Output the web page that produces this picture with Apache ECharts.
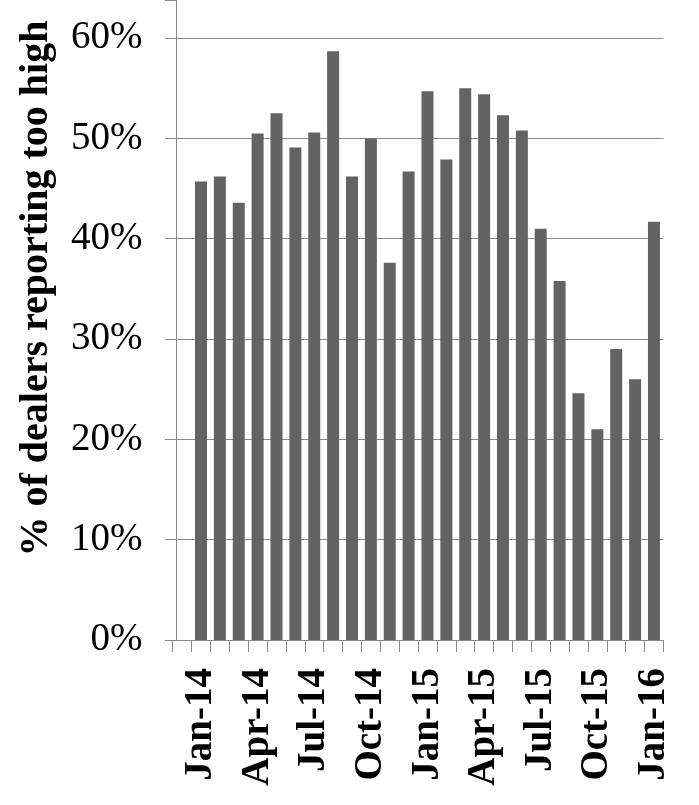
<!DOCTYPE html>
<html>
<head>
<meta charset="utf-8">
<script src="https://cdn.jsdelivr.net/npm/echarts@6/dist/echarts.min.js"></script>
<style>
html,body{margin:0;padding:0;background:#fff;}
#chart{width:699px;height:805px;}
</style>
</head>
<body>
<div id="chart"></div>
<script>
// Months (Jan-14 .. Jan-16)
var months = ['Jan-14','Feb-14','Mar-14','Apr-14','May-14','Jun-14','Jul-14','Aug-14','Sep-14','Oct-14','Nov-14','Dec-14',
              'Jan-15','Feb-15','Mar-15','Apr-15','May-15','Jun-15','Jul-15','Aug-15','Sep-15','Oct-15','Nov-15','Dec-15','Jan-16'];
// % of dealers reporting too high
var values = [45.7,46.2,43.6,50.5,52.5,49.1,50.6,58.7,46.2,50.0,37.6,46.7,
              54.7,47.9,55.0,54.4,52.3,50.8,41.0,35.8,24.6,21.0,29.0,26.0,41.7];
var yTicks = [0,10,20,30,40,50,60];
var yTitle = '% of dealers reporting too high';

var serif = "'Liberation Serif','Times New Roman',serif";
var axisGray = '#8a8a8a';

// leading blank slot before Jan-14 (as in the original axis)
var cats = [''].concat(months);
var data = [null].concat(values);

var chart = echarts.init(document.getElementById('chart'), null, {renderer:'canvas'});
var splitColors = yTicks.map(function(){return axisGray;}).concat(['rgba(0,0,0,0)']);

chart.setOption({
  animation:false,
  backgroundColor:'#fff',
  grid:{left:172.7, right:35.6, top:-1, bottom:165, containLabel:false},
  xAxis:{
    type:'category',
    data:cats,
    boundaryGap:true,
    axisLine:{show:true, lineStyle:{color:axisGray, width:1}},
    axisTick:{show:true, interval:0, length:12, lineStyle:{color:axisGray}},
    axisLabel:{
      interval:function(i){return i>=1 && (i-1)%3===0;},
      rotate:90, margin:28,
      fontFamily:serif, fontWeight:'bold', fontSize:39, color:'#000'
    },
    splitLine:{show:false}
  },
  yAxis:{
    type:'value',
    min:0, max:63.8, interval:10,
    offset:-3.7,
    axisLine:{show:true, lineStyle:{color:axisGray, width:1}},
    axisTick:{show:true, length:11.5, lineStyle:{color:axisGray}},
    axisLabel:{
      margin:34,
      formatter:function(v){return yTicks.indexOf(Math.round(v*1000)/1000)>=0 ? v+'%' : '';},
      fontFamily:serif, fontSize:39, color:'#000'
    },
    splitLine:{show:true, lineStyle:{color:splitColors, width:1}}
  },
  series:[{
    type:'bar',
    data:data,
    barWidth:12,
    itemStyle:{color:'#636363'}
  }],
  graphic:[{
    type:'text',
    x:37, y:288.5,
    rotation:Math.PI/2,
    style:{
      text:yTitle,
      font:"bold 40px 'Liberation Serif','Times New Roman',serif",
      fill:'#000',
      align:'center',
      verticalAlign:'middle'
    }
  }]
});
</script>
</body>
</html>
